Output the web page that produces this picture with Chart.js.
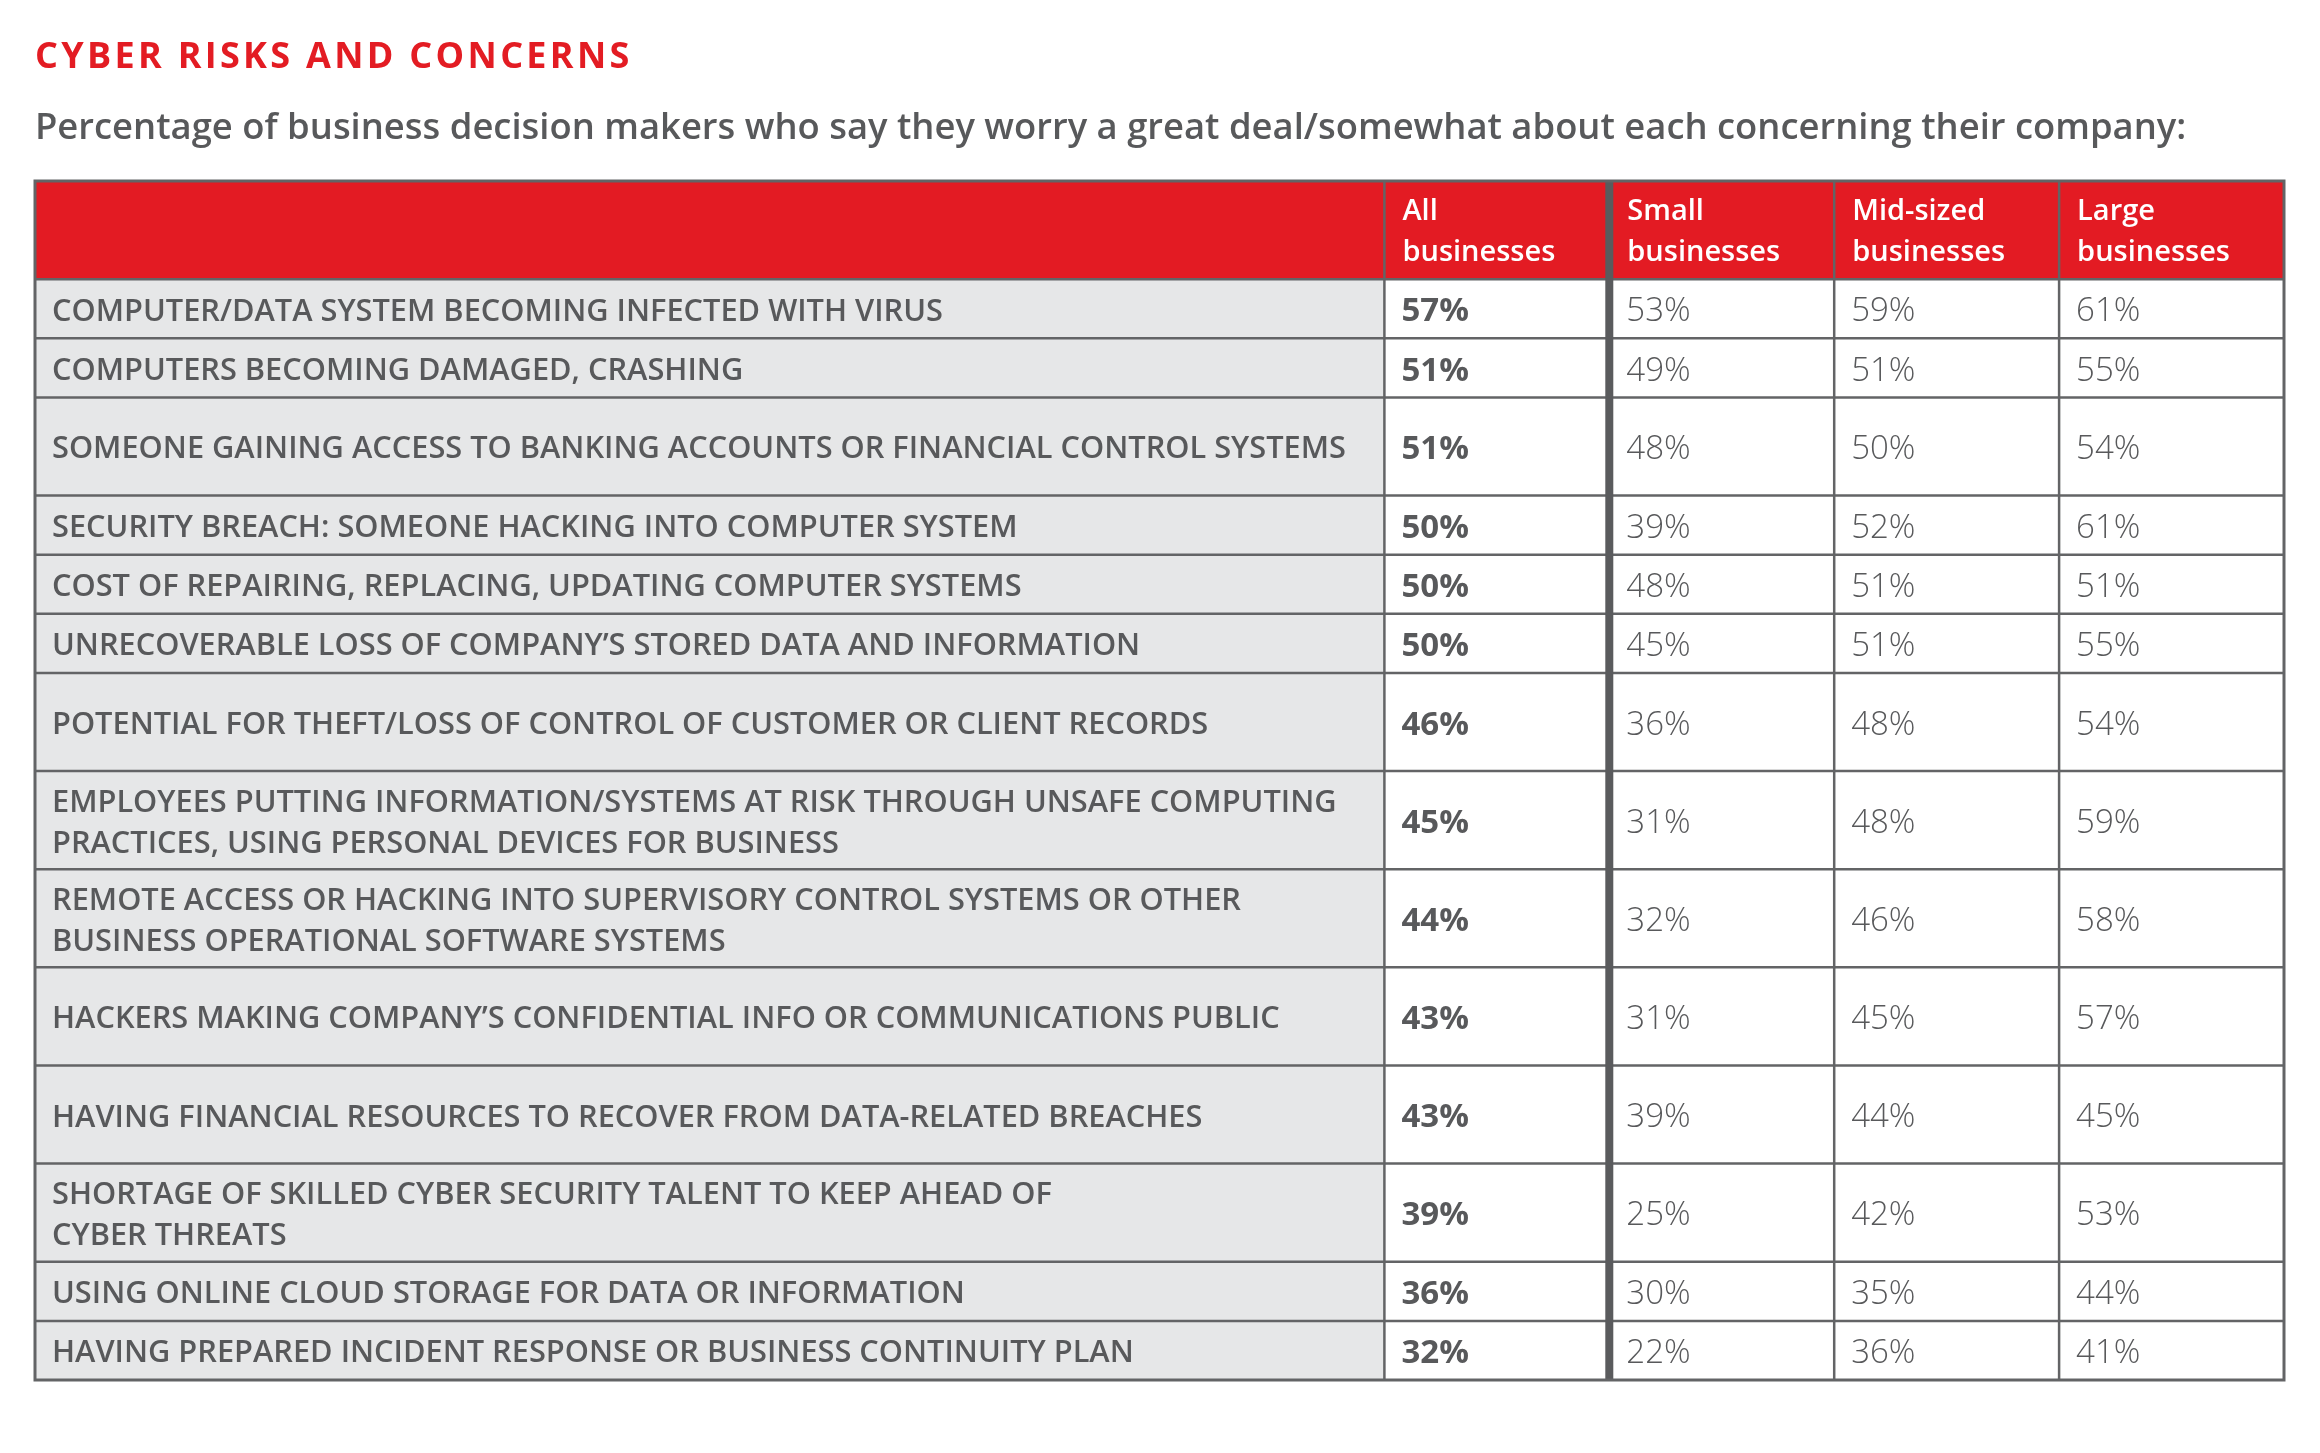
<!DOCTYPE html>
<html>
<head>
<meta charset="utf-8">
<script src="https://cdn.jsdelivr.net/npm/chart.js@4.4.1/dist/chart.umd.min.js"></script>
<style>
  html, body { margin: 0; padding: 0; background: #fff; }
  #page { position: relative; width: 2320px; height: 1453px; overflow: hidden; }
  .title { position: absolute; left: 35px; top: 37px; font: 700 36px/36px 'Open Sans', sans-serif; letter-spacing: 3.3px; color: #e31c23; white-space: nowrap; }
  .subtitle { position: absolute; left: 35px; top: 107px; font: 600 36.4px/36px 'Open Sans', sans-serif; color: #58595b; white-space: nowrap; }
  #wrap { position: absolute; left: 0; top: 0; width: 2320px; height: 1453px; }
</style>
</head>
<body>
<div id="page">
  <div id="wrap"><canvas id="riskTable"></canvas></div>
  <div class="title">CYBER RISKS AND CONCERNS</div>
  <div class="subtitle">Percentage of business decision makers who say they worry a great deal/somewhat about each concerning their company:</div>
</div>
<script>
const concerns = [
  ['COMPUTER/DATA SYSTEM BECOMING INFECTED WITH VIRUS'],
  ['COMPUTERS BECOMING DAMAGED, CRASHING'],
  ['SOMEONE GAINING ACCESS TO BANKING ACCOUNTS OR FINANCIAL CONTROL SYSTEMS'],
  ['SECURITY BREACH: SOMEONE HACKING INTO COMPUTER SYSTEM'],
  ['COST OF REPAIRING, REPLACING, UPDATING COMPUTER SYSTEMS'],
  ['UNRECOVERABLE LOSS OF COMPANY\u2019S STORED DATA AND INFORMATION'],
  ['POTENTIAL FOR THEFT/LOSS OF CONTROL OF CUSTOMER OR CLIENT RECORDS'],
  ['EMPLOYEES PUTTING INFORMATION/SYSTEMS AT RISK THROUGH UNSAFE COMPUTING', 'PRACTICES, USING PERSONAL DEVICES FOR BUSINESS'],
  ['REMOTE ACCESS OR HACKING INTO SUPERVISORY CONTROL SYSTEMS OR OTHER', 'BUSINESS OPERATIONAL SOFTWARE SYSTEMS'],
  ['HACKERS MAKING COMPANY\u2019S CONFIDENTIAL INFO OR COMMUNICATIONS PUBLIC'],
  ['HAVING FINANCIAL RESOURCES TO RECOVER FROM DATA-RELATED BREACHES'],
  ['SHORTAGE OF SKILLED CYBER SECURITY TALENT TO KEEP AHEAD OF', 'CYBER THREATS'],
  ['USING ONLINE CLOUD STORAGE FOR DATA OR INFORMATION'],
  ['HAVING PREPARED INCIDENT RESPONSE OR BUSINESS CONTINUITY PLAN']
];
const columnHeads = [['All', 'businesses'], ['Small', 'businesses'], ['Mid-sized', 'businesses'], ['Large', 'businesses']];
const allBusinesses = [57, 51, 51, 50, 50, 50, 46, 45, 44, 43, 43, 39, 36, 32];
const smallBusinesses = [53, 49, 48, 39, 48, 45, 36, 31, 32, 31, 39, 25, 30, 22];
const midBusinesses = [59, 51, 50, 52, 51, 51, 48, 48, 46, 45, 44, 42, 35, 36];
const largeBusinesses = [61, 55, 54, 61, 51, 55, 54, 59, 58, 57, 45, 53, 44, 41];
const seriesValues = [allBusinesses, smallBusinesses, midBusinesses, largeBusinesses];

// layout: row heights and column widths in table units
const headerSpan = 1.66;
const rowSpans = [1, 1, 1.66, 1, 1, 1, 1.66, 1.66, 1.66, 1.66, 1.66, 1.66, 1, 1];
const labelColSpan = 6;

const rowTops = [];
let acc = headerSpan;
rowSpans.forEach(function (s) { rowTops.push(acc); acc += s; });
const totalRows = acc;
const totalCols = labelColSpan + seriesValues.length;

const GREY = '#58595b';
const LINE = '#636466';
const RED = '#e31b23';
const FONT = "'Open Sans', sans-serif";

function rowMid(i) { return rowTops[i] + rowSpans[i] / 2; }

const datasets = [{
  label: 'concern',
  data: concerns.map(function (lines, i) { return { x: 0, y: rowMid(i), lines: lines }; })
}].concat(seriesValues.map(function (vals, c) {
  return {
    label: columnHeads[c].join(' '),
    data: vals.map(function (v, i) { return { x: labelColSpan + c, y: rowMid(i), v: v }; })
  };
}));

function drawLines(ctx, lines, px, pyCenter, size, gap) {
  const cap = size * 0.357;
  const n = lines.length;
  lines.forEach(function (t, k) {
    const off = (k - (n - 1) / 2) * gap;
    ctx.fillText(t, px, pyCenter + off + cap);
  });
}

const tablePlugin = {
  id: 'tableCells',
  beforeDatasetsDraw: function (chart) {
    const ctx = chart.ctx;
    const x = chart.scales.x, y = chart.scales.y;
    ctx.save();
    // header band
    ctx.fillStyle = RED;
    ctx.fillRect(x.getPixelForValue(0), y.getPixelForValue(0), x.getPixelForValue(totalCols) - x.getPixelForValue(0), y.getPixelForValue(headerSpan) - y.getPixelForValue(0));
    // body cells
    rowSpans.forEach(function (s, i) {
      const top = y.getPixelForValue(rowTops[i]);
      const bot = y.getPixelForValue(rowTops[i] + s);
      ctx.fillStyle = '#e6e7e8';
      ctx.fillRect(x.getPixelForValue(0), top, x.getPixelForValue(labelColSpan) - x.getPixelForValue(0), bot - top);
      ctx.fillStyle = '#ffffff';
      ctx.fillRect(x.getPixelForValue(labelColSpan), top, x.getPixelForValue(totalCols) - x.getPixelForValue(labelColSpan), bot - top);
    });
    // horizontal rules
    ctx.strokeStyle = LINE;
    ctx.lineWidth = 2.5;
    const hs = [headerSpan].concat(rowTops.slice(1));
    hs.forEach(function (v) {
      const py = y.getPixelForValue(v);
      ctx.beginPath();
      ctx.moveTo(x.getPixelForValue(0), py);
      ctx.lineTo(x.getPixelForValue(totalCols), py);
      ctx.stroke();
    });
    // vertical rules
    for (let c = labelColSpan; c < totalCols; c += 1) {
      const px = x.getPixelForValue(c);
      ctx.lineWidth = c === labelColSpan + 1 ? 8 : 2.5;
      ctx.strokeStyle = c === labelColSpan + 1 ? '#5a5b5d' : LINE;
      ctx.beginPath();
      ctx.moveTo(px, y.getPixelForValue(0));
      ctx.lineTo(px, y.getPixelForValue(totalRows));
      ctx.stroke();
    }
    // outer frame
    ctx.lineWidth = 3;
    ctx.strokeStyle = LINE;
    ctx.strokeRect(x.getPixelForValue(0), y.getPixelForValue(0), x.getPixelForValue(totalCols) - x.getPixelForValue(0), y.getPixelForValue(totalRows) - y.getPixelForValue(0));
    ctx.restore();
  },
  afterDatasetsDraw: function (chart) {
    const ctx = chart.ctx;
    const x = chart.scales.x, y = chart.scales.y;
    ctx.save();
    ctx.textAlign = 'left';
    ctx.textBaseline = 'alphabetic';
    // column heads
    ctx.fillStyle = '#ffffff';
    ctx.font = '600 29px ' + FONT;
    columnHeads.forEach(function (lines, c) {
      drawLines(ctx, lines, x.getPixelForValue(labelColSpan + c) + 18, y.getPixelForValue(headerSpan / 2), 29, 41);
    });
    // cells
    chart.data.datasets.forEach(function (ds, di) {
      const meta = chart.getDatasetMeta(di);
      meta.data.forEach(function (el, i) {
        const item = ds.data[i];
        ctx.fillStyle = GREY;
        if (di === 0) {
          ctx.font = '600 30.75px ' + FONT;
          drawLines(ctx, item.lines, el.x + 17, el.y + 1, 30.75, 41);
        } else {
          ctx.font = (di === 1 ? '700 ' : '300 ') + '33px ' + FONT;
          drawLines(ctx, [item.v + '%'], el.x + 17, el.y + 1, 33, 0);
        }
      });
    });
    ctx.restore();
  }
};

new Chart(document.getElementById('riskTable'), {
  type: 'scatter',
  data: { datasets: datasets },
  options: {
    responsive: true,
    maintainAspectRatio: false,
    animation: false,
    events: [],
    layout: { padding: { left: 35, right: 36, top: 181, bottom: 73 } },
    elements: { point: { radius: 0, hoverRadius: 0 } },
    plugins: { legend: { display: false }, tooltip: { enabled: false }, title: { display: false } },
    scales: {
      x: { type: 'linear', display: false, min: 0, max: totalCols },
      y: { type: 'linear', display: false, min: 0, max: totalRows, reverse: true }
    }
  },
  plugins: [tablePlugin]
});
</script>
</body>
</html>
